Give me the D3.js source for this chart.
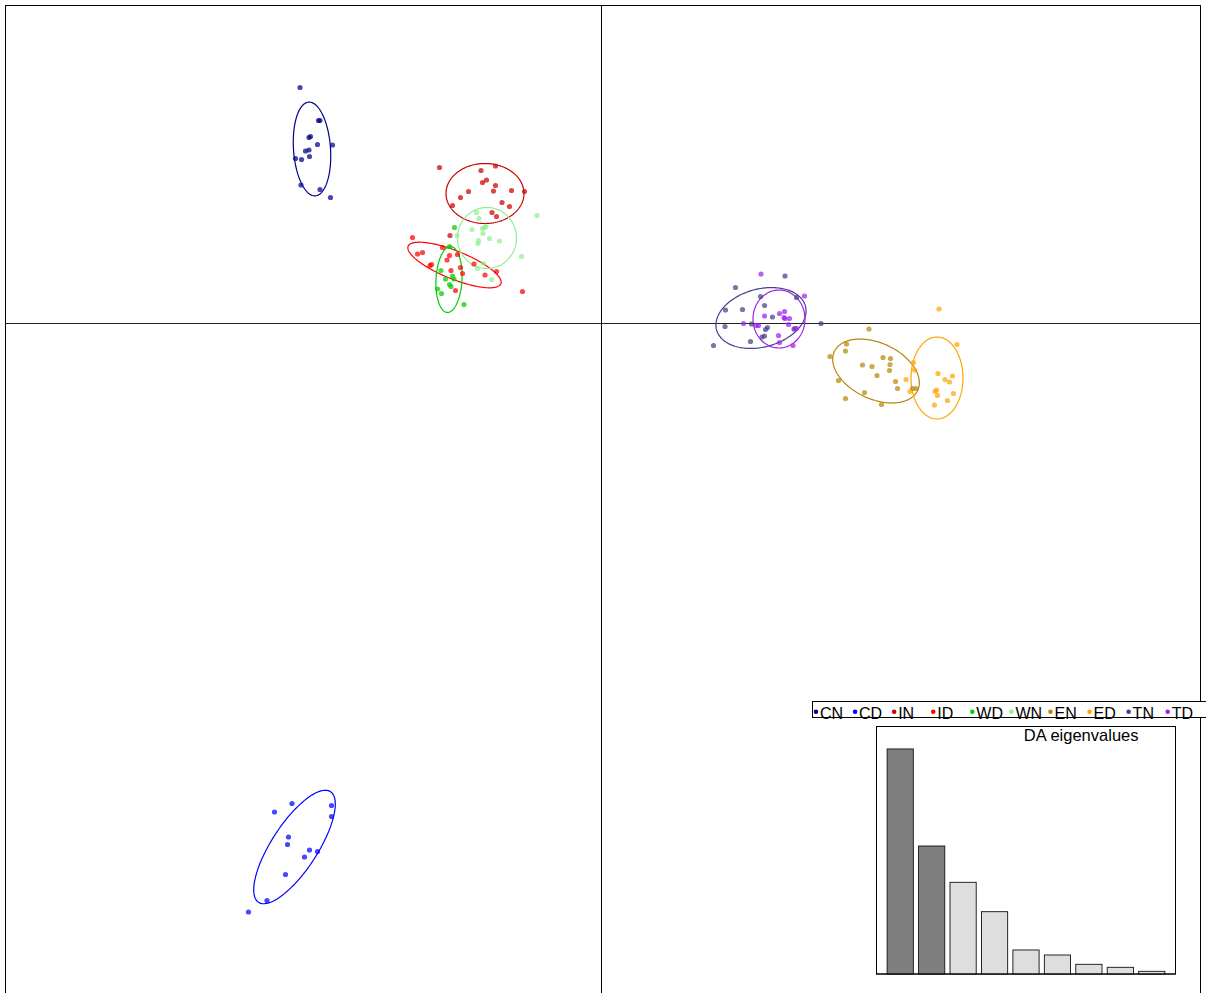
<!DOCTYPE html>
<html>
<head>
<meta charset="utf-8">
<script src="https://cdn.jsdelivr.net/npm/d3@7"></script>
<style>
  html, body { margin: 0; padding: 0; background: #fff; }
  svg { display: block; font-family: "Liberation Sans", Arial, Helvetica, sans-serif; }
</style>
</head>
<body>
<svg id="chart" width="1206" height="993"></svg>
<script>
// Group labels and colours (DAPC scatter, discriminant functions 1 and 2)
const groups = ["CN", "CD", "IN", "ID", "WD", "WN", "EN", "ED", "TN", "TD"];
const groupColors = ["#00008B", "#0000FF", "#CD0000", "#FF0000", "#00CD00",
                     "#90EE90", "#B8860B", "#FFA500", "#483D8B", "#A020F0"];

// Individual scores [LD1, LD2] per group
const scoresCN = [[-6.03,4.72],[-5.66,4.06],[-5.63,4.06],[-5.85,3.72],[-5.82,3.74],[-5.68,3.58],
  [-5.38,3.57],[-5.92,3.45],[-5.85,3.47],[-6.12,3.30],[-6.00,3.28],[-5.84,3.34],[-6.01,2.77],
  [-5.63,2.68],[-5.42,2.52]];
const scoresCD = [[-6.19,-9.60],[-6.54,-9.77],[-5.40,-9.64],[-5.40,-9.86],[-6.26,-10.27],
  [-6.28,-10.42],[-5.84,-10.53],[-5.68,-10.56],[-5.94,-10.67],[-6.32,-11.02],[-6.69,-11.54],
  [-7.06,-11.77]];
const scoresIN = [[-3.24,3.12],[-2.41,3.06],[-2.12,3.15],[-2.38,2.82],[-2.30,2.87],[-2.12,2.76],
  [-2.66,2.64],[-2.16,2.65],[-1.80,2.66],[-1.54,2.64],[-2.82,2.52],[-2.98,2.36],[-1.99,2.42],
  [-1.84,2.34],[-2.19,2.22],[-2.10,2.14],[-3.03,1.76]];
const scoresID = [[-3.78,1.72],[-3.68,1.39],[-3.58,1.42],[-3.43,1.16],[-3.40,1.18],[-3.18,1.52],
  [-3.04,1.36],[-2.88,1.38],[-3.09,1.27],[-2.82,1.12],[-3.01,1.06],[-2.78,1.00],[-2.55,1.19],
  [-2.33,0.97],[-2.10,1.04],[-2.92,0.66],[-1.58,0.64]];
const scoresWD = [[-2.94,1.92],[-3.04,1.54],[-3.21,1.06],[-2.98,0.95],[-2.95,0.89],[-3.12,0.89],
  [-3.28,0.69],[-3.20,0.60],[-3.04,0.78],[-3.01,0.74],[-2.75,0.38]];
const scoresWN = [[-2.50,2.22],[-2.45,2.10],[-1.29,2.16],[-2.59,1.88],[-2.38,1.90],[-2.34,1.92],
  [-2.31,1.94],[-2.37,1.80],[-2.89,1.76],[-2.24,1.70],[-2.04,1.65],[-2.46,1.66],[-2.47,1.60],
  [-1.60,1.34],[-2.48,1.10],[-2.20,0.88],[-2.36,1.20]];
const scoresEN = [[5.35,-0.11],[4.90,-0.41],[4.88,-0.55],[4.57,-0.66],[5.22,-0.83],[5.41,-0.86],
  [5.63,-0.68],[5.78,-0.70],[5.77,-0.82],[5.76,-0.94],[5.51,-1.04],[5.88,-1.16],[5.92,-1.30],
  [4.74,-1.14],[5.26,-1.38],[4.88,-1.50],[5.60,-1.62],[6.22,-1.30],[6.29,-1.30]];
const scoresED = [[6.75,0.29],[7.11,-0.42],[6.24,-0.78],[6.26,-0.93],[6.09,-1.12],[6.73,-1.00],
  [6.87,-1.12],[6.96,-1.17],[7.02,-1.05],[6.70,-1.33],[6.67,-1.36],[6.72,-1.44],[7.04,-1.40],
  [6.92,-1.54],[6.66,-1.63],[6.17,-1.36]];
const scoresTN = [[3.67,0.95],[2.68,0.72],[3.18,0.54],[3.90,0.52],[2.48,0.27],[2.82,0.28],
  [3.26,0.36],[3.42,0.13],[3.00,-0.01],[2.47,-0.06],[3.32,-0.08],[3.28,-0.12],[3.26,-0.25],
  [3.21,-0.27],[2.98,-0.36],[2.24,-0.44],[3.85,-0.11],[4.39,0.00]];
const scoresTD = [[3.19,0.99],[4.06,0.55],[3.26,0.15],[3.56,0.20],[3.66,0.24],[3.65,0.12],
  [3.67,0.10],[3.76,0.10],[3.74,-0.02],[2.84,0.00],[3.10,-0.04],[3.14,-0.04],[3.87,-0.10],
  [3.90,-0.10],[3.54,-0.24],[3.56,-0.38],[3.83,-0.44]];
const groupScores = [scoresCN, scoresCD, scoresIN, scoresID, scoresWD,
                     scoresWN, scoresEN, scoresED, scoresTN, scoresTD];

// Inertia ellipses per group: [centre LD1, centre LD2, semi-axis a, semi-axis b, angle of a (deg)]
const ellipseCN = [-5.79, 3.49, 0.94, 0.37, 94];
const ellipseCD = [-6.14, -10.47, 1.32, 0.46, 57];
const ellipseIN = [-2.33, 2.60, 0.78, 0.60, 0];
const ellipseID = [-2.94, 1.17, 1.00, 0.28, -22];
const ellipseWD = [-3.05, 0.88, 0.66, 0.26, 87];
const ellipseWN = [-2.29, 1.71, 0.59, 0.61, 0];
const ellipseEN = [5.49, -0.95, 0.92, 0.56, -25];
const ellipseED = [6.71, -1.09, 0.82, 0.52, 90];
const ellipseTN = [3.19, 0.11, 0.92, 0.58, 15];
const ellipseTD = [3.55, 0.09, 0.58, 0.52, 90];
const groupEllipses = [ellipseCN, ellipseCD, ellipseIN, ellipseID, ellipseWD,
                       ellipseWN, ellipseEN, ellipseED, ellipseTN, ellipseTD];

// Discriminant analysis eigenvalues (first two retained)
const eigenValues = [562.3, 319.8, 229.1, 155.7, 60.0, 47.5, 24.2, 16.7, 6.7];
const eigenRetained = 2;
const eigenTitle = "DA eigenvalues";

const svg = d3.select("#chart");

// Main scatter scales
const x = d3.scaleLinear().domain([-11.93, 11.97]).range([5, 1200]);
const y = d3.scaleLinear().domain([-13.63, 6.37]).range([1005, 5]);

// Plot frame
svg.append("rect")
  .attr("x", 5.5).attr("y", 5.5)
  .attr("width", 1195).attr("height", 1000)
  .attr("fill", "none").attr("stroke", "#000").attr("stroke-width", 1);

// Axes through the origin
svg.append("line")
  .attr("x1", 5).attr("x2", 1200)
  .attr("y1", Math.floor(y(0)) + 0.5).attr("y2", Math.floor(y(0)) + 0.5)
  .attr("stroke", "#222").attr("stroke-width", 1);
svg.append("line")
  .attr("x1", Math.floor(x(0)) + 0.5).attr("x2", Math.floor(x(0)) + 0.5)
  .attr("y1", 5).attr("y2", 1005)
  .attr("stroke", "#000").attr("stroke-width", 1);

// Ellipses
function ellipsePoints(e) {
  const [cx, cy, a, b, deg] = e;
  const th = deg * Math.PI / 180;
  return d3.range(0, 120).map(i => {
    const t = i / 120 * 2 * Math.PI;
    const u = a * Math.cos(t), v = b * Math.sin(t);
    return [cx + u * Math.cos(th) - v * Math.sin(th), cy + u * Math.sin(th) + v * Math.cos(th)];
  });
}
const ellLine = d3.line().x(d => x(d[0])).y(d => y(d[1])).curve(d3.curveLinearClosed);

const gEll = svg.append("g");
groupEllipses.forEach((e, i) => {
  gEll.append("path")
    .attr("d", ellLine(ellipsePoints(e)))
    .attr("fill", "none")
    .attr("stroke", groupColors[i])
    .attr("stroke-width", 1.2);
});

// Individual points
const gPts = svg.append("g");
groupScores.forEach((pts, i) => {
  gPts.selectAll(null)
    .data(pts)
    .join("circle")
    .attr("cx", d => x(d[0]))
    .attr("cy", d => y(d[1]))
    .attr("r", 2.6)
    .attr("fill", groupColors[i])
    .attr("fill-opacity", 0.72);
});

// Legend strip
const legend = svg.append("g");
legend.append("rect")
  .attr("x", 812.5).attr("y", 701.5)
  .attr("width", 400).attr("height", 16)
  .attr("fill", "#fff").attr("stroke", "#000").attr("stroke-width", 1);
const legX = d3.scalePoint().domain(groups).range([816, 1167.7]);
groups.forEach((g, i) => {
  legend.append("circle")
    .attr("cx", legX(g)).attr("cy", 711.8).attr("r", 2.3)
    .attr("fill", groupColors[i]);
  legend.append("text")
    .attr("x", legX(g) + 4).attr("y", 718.5)
    .attr("font-size", 16)
    .attr("fill", "#000")
    .text(g);
});

// Eigenvalue inset
const inset = svg.append("g");
inset.append("rect")
  .attr("x", 876.5).attr("y", 726.5)
  .attr("width", 299).attr("height", 247.5)
  .attr("fill", "#fff").attr("stroke", "#000").attr("stroke-width", 1);
const ex = d3.scaleLinear().domain([-0.224, 11.224]).range([876, 1176]);
const ey = d3.scaleLinear().domain([0, d3.max(eigenValues) * 1.102]).range([974, 726]);
inset.selectAll("rect.bar")
  .data(eigenValues)
  .join("rect")
  .attr("class", "bar")
  .attr("x", (d, i) => ex(0.2 + i * 1.2))
  .attr("width", (d, i) => ex(1.2 + i * 1.2) - ex(0.2 + i * 1.2))
  .attr("y", d => ey(d))
  .attr("height", d => ey(0) - ey(d))
  .attr("fill", (d, i) => i < eigenRetained ? "#7F7F7F" : "#DEDEDE")
  .attr("stroke", "#111")
  .attr("stroke-width", 0.9);
inset.append("line")
  .attr("x1", 876).attr("x2", 1176)
  .attr("y1", 974).attr("y2", 974)
  .attr("stroke", "#000").attr("stroke-width", 1);
inset.append("text")
  .attr("x", 1138.5).attr("y", 740.7)
  .attr("text-anchor", "end")
  .attr("font-size", 16.5)
  .attr("fill", "#000")
  .text(eigenTitle);
</script>
</body>
</html>
